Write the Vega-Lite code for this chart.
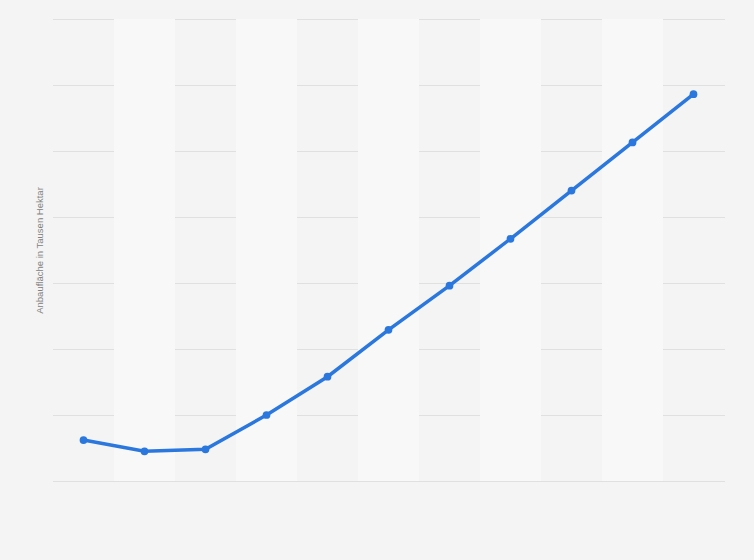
{
  "$schema": "https://vega.github.io/schema/vega-lite/v6.json",
  "width": 671,
  "height": 462,
  "autosize": {"type": "none"},
  "padding": {"left": 53, "top": 19, "right": 30, "bottom": 79},
  "background": "#f4f4f4",
  "config": {
    "view": {"stroke": null},
    "axis": {"labelFont": "Liberation Sans", "titleFont": "Liberation Sans"}
  },
  "data": {
    "values": [
      {"jahr": "2008", "wert": 6.2},
      {"jahr": "2009", "wert": 4.5},
      {"jahr": "2010", "wert": 4.8},
      {"jahr": "2011", "wert": 10.0},
      {"jahr": "2012", "wert": 15.8},
      {"jahr": "2013", "wert": 22.9},
      {"jahr": "2014", "wert": 29.6},
      {"jahr": "2015", "wert": 36.7},
      {"jahr": "2016", "wert": 44.0},
      {"jahr": "2017", "wert": 51.3},
      {"jahr": "2018", "wert": 58.6}
    ]
  },
  "encoding": {
    "x": {
      "field": "jahr",
      "type": "ordinal",
      "scale": {"type": "band", "paddingInner": 0, "paddingOuter": 0},
      "axis": {"labels": false, "ticks": false, "domain": false, "title": null}
    }
  },
  "layer": [
    {
      "transform": [
        {"window": [{"op": "row_number", "as": "idx"}]},
        {"filter": "datum.idx % 2 == 0"}
      ],
      "mark": {"type": "rect", "fill": "#f8f8f8"},
      "encoding": {}
    },
    {
      "mark": {"type": "line", "color": "#2a77de", "strokeWidth": 3.5, "point": {"filled": true, "size": 60, "color": "#2a77de"}},
      "encoding": {
        "y": {
          "field": "wert",
          "type": "quantitative",
          "scale": {"domain": [0, 70], "nice": false},
          "axis": {
            "values": [0, 10, 20, 30, 40, 50, 60, 70],
            "labels": false,
            "ticks": false,
            "domain": false,
            "grid": true,
            "gridColor": "#cccccc",
            "gridDash": [1, 1],
            "gridWidth": 1,
            "title": "Anbaufläche in Tausen Hektar",
            "titleFontSize": 9.5,
            "titleFontWeight": "normal",
            "titleColor": "#808080",
            "titlePadding": 9
          }
        }
      }
    }
  ]
}
